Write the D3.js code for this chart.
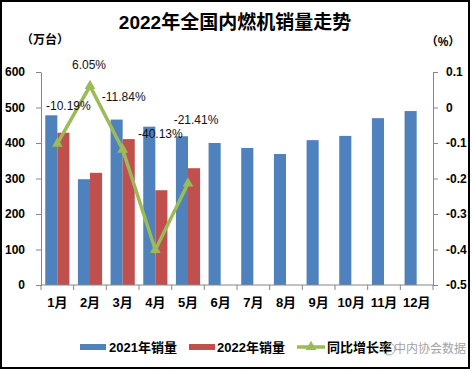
<!DOCTYPE html>
<html>
<head>
<meta charset="utf-8">
<script src="https://cdn.jsdelivr.net/npm/d3@7"></script>
<style>
  body { margin: 0; background: #fff; }
  svg text { font-family: Arial, "Liberation Sans", "Noto Sans CJK SC", sans-serif; }
</style>
</head>
<body>
<div id="chart"></div>
<script>
// data
var months = ["1月","2月","3月","4月","5月","6月","7月","8月","9月","10月","11月","12月"];
var sales2021 = [478, 298, 466, 446, 419, 400, 386, 369, 408, 420, 470, 490];
var sales2022 = [429, 316, 411, 267, 329];
var growth = [-0.1019, 0.0605, -0.1184, -0.4013, -0.2141];
var growthLabels = ["-10.19%", "6.05%", "-11.84%", "-40.13%", "-21.41%"];
var leftTicks = [0, 100, 200, 300, 400, 500, 600];
var rightTicks = [0.1, 0, -0.1, -0.2, -0.3, -0.4, -0.5];

// where each data label sits relative to its point (px)
var labelNudge = [[11, -38], [-1, -21], [1, -53], [5, -116], [8, -64]];

var W = 472, H = 371;
var blue = "#4F81BD", red = "#C0504D", green = "#9BBB59", axisCol = "#868686";

var svg = d3.select("#chart").append("svg")
    .attr("width", W)
    .attr("height", H);

// frame
svg.append("rect")
    .attr("x", 1).attr("y", 1)
    .attr("width", 468).attr("height", 367)
    .attr("fill", "none")
    .attr("stroke", "#000")
    .attr("stroke-width", 2);

// scales
var x0 = d3.scaleBand().domain(months).range([41, 433])
    .paddingInner(0.26).paddingOuter(0.13);
var x1 = d3.scaleBand().domain(["a", "b"]).range([0, x0.bandwidth()]);
var yL = d3.scaleLinear().domain([0, 600]).range([285, 72]);
var yR = d3.scaleLinear().domain([-0.5, 0.1]).range([285, 72]);

// title + unit labels
svg.append("text")
    .attr("x", 235).attr("y", 29)
    .attr("text-anchor", "middle")
    .attr("font-size", 19).attr("font-weight", "bold")
    .text("2022年全国内燃机销量走势");
svg.append("text")
    .attr("x", 45).attr("y", 44)
    .attr("text-anchor", "middle")
    .attr("font-size", 12).attr("font-weight", "bold")
    .text("（万台）");
svg.append("text")
    .attr("x", 443).attr("y", 46)
    .attr("text-anchor", "middle")
    .attr("font-size", 12).attr("font-weight", "bold")
    .text("（%）");

// bars
svg.append("g").selectAll("rect")
    .data(sales2021)
    .join("rect")
    .attr("x", (d, i) => x0(months[i]) + x1("a"))
    .attr("y", d => yL(d))
    .attr("width", x1.bandwidth())
    .attr("height", d => yL(0) - yL(d))
    .attr("fill", blue);

svg.append("g").selectAll("rect")
    .data(sales2022)
    .join("rect")
    .attr("x", (d, i) => x0(months[i]) + x1("b"))
    .attr("y", d => yL(d))
    .attr("width", x1.bandwidth())
    .attr("height", d => yL(0) - yL(d))
    .attr("fill", red);

// left axis
var gL = svg.append("g")
    .attr("transform", "translate(41,0)")
    .call(d3.axisLeft(yL).tickValues(leftTicks).tickSize(5).tickPadding(11).tickSizeOuter(0));
// right axis
var gR = svg.append("g")
    .attr("transform", "translate(433,0)")
    .call(d3.axisRight(yR).tickValues(rightTicks).tickSize(5).tickPadding(8).tickSizeOuter(0)
        .tickFormat(d => Math.abs(d) < 1e-9 ? "0" : d.toFixed(1)));

// x axis
var gX = svg.append("g")
    .attr("transform", "translate(0,285)");
gX.append("line")
    .attr("x1", 41).attr("x2", 433)
    .attr("stroke", axisCol);
gX.selectAll(".sep")
    .data(d3.range(months.length + 1))
    .join("line")
    .attr("class", "sep")
    .attr("x1", i => x0.range()[0] + i * x0.step())
    .attr("x2", i => x0.range()[0] + i * x0.step())
    .attr("y1", 0).attr("y2", 5)
    .attr("stroke", axisCol);
gX.selectAll(".lbl")
    .data(months)
    .join("text")
    .attr("class", "lbl")
    .attr("x", d => x0(d) + x0.bandwidth() / 2)
    .attr("y", 22)
    .attr("text-anchor", "middle")
    .attr("font-size", 13).attr("font-weight", "bold")
    .text(d => d);

[gL, gR].forEach(g => {
    g.select(".domain").attr("stroke", axisCol);
    g.selectAll(".tick line").attr("stroke", axisCol);
    g.selectAll(".tick text")
        .attr("font-size", 12).attr("font-weight", "bold")
        .attr("fill", "#000")
        .attr("font-family", 'Arial, "Liberation Sans", sans-serif');
});

// growth line
var cx = (d, i) => x0(months[i]) + x0.bandwidth() / 2;
var line = d3.line()
    .x(cx)
    .y(d => yR(d));

svg.append("path")
    .datum(growth)
    .attr("d", line)
    .attr("fill", "none")
    .attr("stroke", green)
    .attr("stroke-width", 3.5)
    .attr("stroke-linejoin", "miter");

var tri = d3.symbol().type(d3.symbolTriangle).size(50);
svg.append("g").selectAll("path")
    .data(growth)
    .join("path")
    .attr("d", tri)
    .attr("transform", (d, i) => "translate(" + cx(d, i) + "," + yR(d) + ")")
    .attr("fill", green);

// data labels
svg.append("g").selectAll("text")
    .data(growth)
    .join("text")
    .attr("x", (d, i) => cx(d, i) + labelNudge[i][0])
    .attr("y", (d, i) => yR(d) + labelNudge[i][1])
    .attr("dy", "0.35em")
    .attr("text-anchor", "middle")
    .attr("font-size", 12)
    .attr("fill", "#111")
    .text((d, i) => growthLabels[i]);

// legend
var leg = svg.append("g").attr("font-size", 13).attr("font-weight", "bold");
leg.append("rect").attr("x", 80).attr("y", 344).attr("width", 26).attr("height", 6).attr("fill", blue);
leg.append("text").attr("x", 109).attr("y", 352).text("2021年销量");
leg.append("rect").attr("x", 189).attr("y", 344).attr("width", 26).attr("height", 6).attr("fill", red);
leg.append("text").attr("x", 217).attr("y", 352).text("2022年销量");
leg.append("line").attr("x1", 297).attr("x2", 325).attr("y1", 347).attr("y2", 347)
    .attr("stroke", green).attr("stroke-width", 3.5);
leg.append("path").attr("d", tri).attr("transform", "translate(311,347)").attr("fill", green);
leg.append("text").attr("x", 327).attr("y", 352).text("同比增长率");

// watermark
svg.append("circle").attr("cx", 389).attr("cy", 349).attr("r", 6)
    .attr("fill", "none").attr("stroke", "#aaa").attr("stroke-width", 1);
svg.append("text")
    .attr("x", 394).attr("y", 353)
    .attr("font-size", 12)
    .attr("fill", "#999")
    .attr("opacity", 0.9)
    .text("中内协会数据");
</script>
</body>
</html>
